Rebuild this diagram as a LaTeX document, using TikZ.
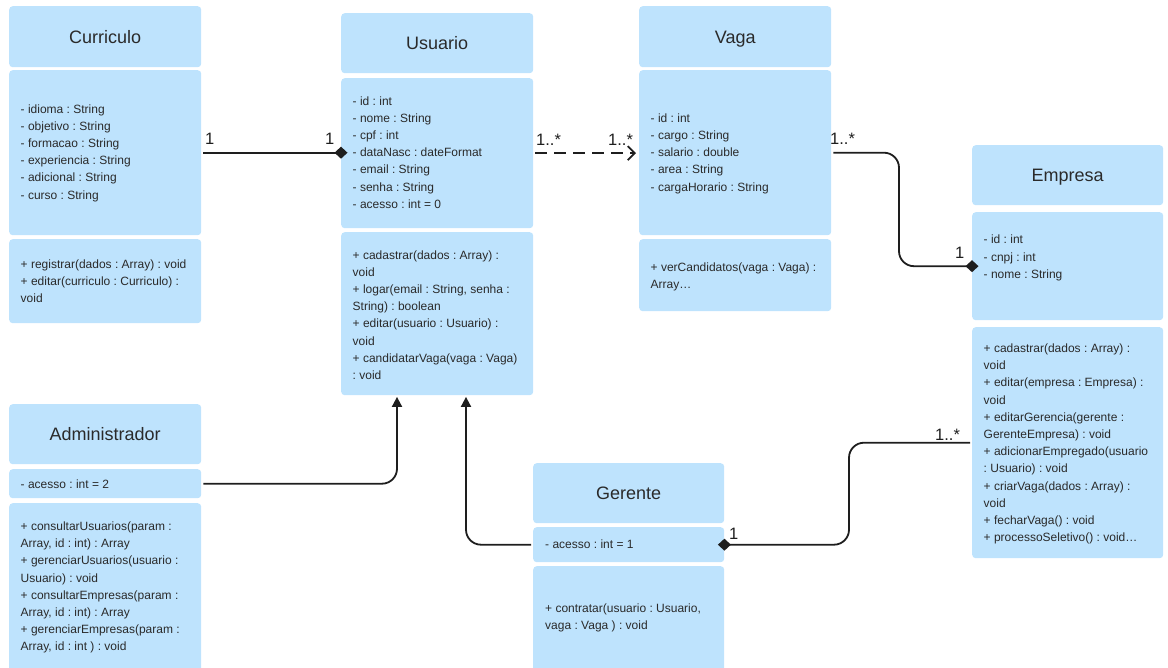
\documentclass[tikz,border=0pt]{standalone}
\usepackage{fontspec}
\setmainfont{Liberation Sans}
\usetikzlibrary{arrows.meta,calc}
\definecolor{boxblue}{HTML}{BEE3FD}
\definecolor{textgray}{HTML}{2A2A2A}
\definecolor{linegray}{HTML}{1E1E1E}
\frenchspacing
\tikzset{
  comp/.style={draw=none, fill=boxblue, rounded corners=3.5bp, inner sep=0pt, anchor=north west},
  ctitle/.style={comp, text=textgray, font=\fontsize{18bp}{21bp}\selectfont, text height=12.9bp, text depth=0pt},
  txt/.style={font=\fontsize{12bp}{17.2bp}\selectfont\frenchspacing, text=textgray, align=left, inner sep=0pt, anchor=west},
  mult/.style={font=\fontsize{16.5bp}{19bp}\selectfont, text=linegray, inner sep=0pt, anchor=base west},
  conn/.style={draw=linegray, line width=1.8bp},
  comptip/.style={-{Diamond[length=13bp,width=12bp]}, shorten >=-6.5bp, shorten <=2bp},
  navtip/.style={-{Straight Barb[length=7bp,width=14bp]}, shorten >=3bp, shorten <=2bp, dash pattern=on 12bp off 7bp},
  gentip/.style={-{Triangle[length=10bp,width=10bp]}, shorten >=1.5bp, shorten <=2bp, rounded corners=15bp},
}
\begin{document}
\begin{tikzpicture}[x=1bp,y=-1bp]
\useasboundingbox (0,0) rectangle (1168,668);

% ---- Curriculo
\node[ctitle, minimum width=192bp, minimum height=61bp] (curH) at (9,6) {Curriculo};
\node[comp, minimum width=192bp, minimum height=165bp] (curA) at (9,70) {};
\node[comp, minimum width=192bp, minimum height=84bp] (curM) at (9,239) {};
\node[txt] (curAt) at ($(curA.north west)+(11.5,83)$) {- idioma : String\\- objetivo : String\\- formacao : String\\- experiencia : String\\- adicional : String\\- curso : String};
\node[txt] (curMt) at ($(curM.north west)+(11.5,42.5)$) {+ registrar(dados : Array) : void\\+ editar(curriculo : Curriculo) :\\void};

% ---- Usuario
\node[ctitle, minimum width=192bp, minimum height=60bp] (usuH) at (341,13) {Usuario};
\node[comp, minimum width=192bp, minimum height=150bp] (usuA) at (341,78) {};
\node[comp, minimum width=192bp, minimum height=163bp] (usuM) at (341,232) {};
\node[txt] (usuAt) at ($(usuA.north west)+(11.5,74.5)$) {- id : int\\- nome : String\\- cpf : int\\- dataNasc : dateFormat\\- email : String\\- senha : String\\- acesso : int = 0};
\node[txt] (usuMt) at ($(usuM.north west)+(11.5,83)$) {+ cadastrar(dados : Array) :\\void\\+ logar(email : String, senha :\\String) : boolean\\+ editar(usuario : Usuario) :\\void\\+ candidatarVaga(vaga : Vaga)\\: void};

% ---- Vaga
\node[ctitle, minimum width=192bp, minimum height=61bp] (vagH) at (639,6) {Vaga};
\node[comp, minimum width=192bp, minimum height=165bp] (vagA) at (639,70) {};
\node[comp, minimum width=192bp, minimum height=72bp] (vagM) at (639,239) {};
\node[txt] (vagAt) at ($(vagA.north west)+(11.5,83.5)$) {- id : int\\- cargo : String\\- salario : double\\- area : String\\- cargaHorario : String};
\node[txt] (vagMt) at ($(vagM.north west)+(11.5,38)$) {+ verCandidatos(vaga : Vaga) :\\Array…};

% ---- Empresa
\node[ctitle, minimum width=191bp, minimum height=60bp] (empH) at (972,145) {Empresa};
\node[comp, minimum width=191bp, minimum height=108bp] (empA) at (972,212) {};
\node[comp, minimum width=191bp, minimum height=231bp] (empM) at (972,327) {};
\node[txt] (empAt) at ($(empA.north west)+(11.5,46)$) {- id : int\\- cnpj : int\\- nome : String};
\node[txt] (empMt) at ($(empM.north west)+(11.5,117)$) {+ cadastrar(dados : Array) :\\void\\+ editar(empresa : Empresa) :\\void\\+ editarGerencia(gerente :\\GerenteEmpresa) : void\\+ adicionarEmpregado(usuario\\: Usuario) : void\\+ criarVaga(dados : Array) :\\void\\+ fecharVaga() : void\\+ processoSeletivo() : void…};

% ---- Administrador
\node[ctitle, minimum width=192bp, minimum height=60bp] (admH) at (9,404) {Administrador};
\node[comp, minimum width=192bp, minimum height=29bp] (admA) at (9,469) {};
\node[comp, minimum width=192bp, minimum height=172bp] (admM) at (9,503) {};
\node[txt] (admAt) at ($(admA.north west)+(11.5,15.7)$) {- acesso : int = 2};
\node[txt] (admMt) at ($(admM.north west)+(11.5,84.5)$) {+ consultarUsuarios(param :\\Array, id : int) : Array\\+ gerenciarUsuarios(usuario :\\Usuario) : void\\+ consultarEmpresas(param :\\Array, id : int) : Array\\+ gerenciarEmpresas(param :\\Array, id : int ) : void};

% ---- Gerente
\node[ctitle, minimum width=191bp, minimum height=60bp] (gerH) at (533,463) {Gerente};
\node[comp, minimum width=191bp, minimum height=35bp] (gerA) at (533,527) {};
\node[comp, minimum width=191bp, minimum height=110bp] (gerM) at (533,566) {};
\node[txt] (gerAt) at ($(gerA.north west)+(12,17)$) {- acesso : int = 1};
\node[txt] (gerMt) at ($(gerM.north west)+(12,51.5)$) {+ contratar(usuario : Usuario,\\vaga : Vaga ) : void};

% ---- bend coordinates
\coordinate (vx) at (899,0);
\coordinate (gx) at (849,0);
\coordinate (ux) at (466,0);
\coordinate (ax) at (397,0);

% ---- connectors
\draw[conn, comptip] (curA.east) -- (curA.east -| usuA.west);
\draw[conn, navtip] (usuA.east) -- (usuA.east -| vagA.west);
\draw[conn, comptip, rounded corners=15bp] (vagA.east) -| (vx |- empA.west) -- (empA.west);
\draw[conn, comptip, rounded corners=15bp] (empM.west) -| (gx |- gerA.east) -- (gerA.east);
\draw[conn, gentip] (gerA.west) -| (ux |- usuM.south);
\draw[conn, gentip] (admA.east) -| (ax |- usuM.south);

% ---- multiplicities
\node[mult] (m1) at (205,145) {1};
\node[mult] (m2) at (325,145) {1};
\node[mult] (m3) at (536,146) {1..*};
\node[mult] (m4) at (608,146) {1..*};
\node[mult] (m5) at (830,145) {1..*};
\node[mult] (m6) at (955,258) {1};
\node[mult] (m7) at (935,440) {1..*};
\node[mult] (m8) at (729,539) {1};
\end{tikzpicture}
\end{document}
